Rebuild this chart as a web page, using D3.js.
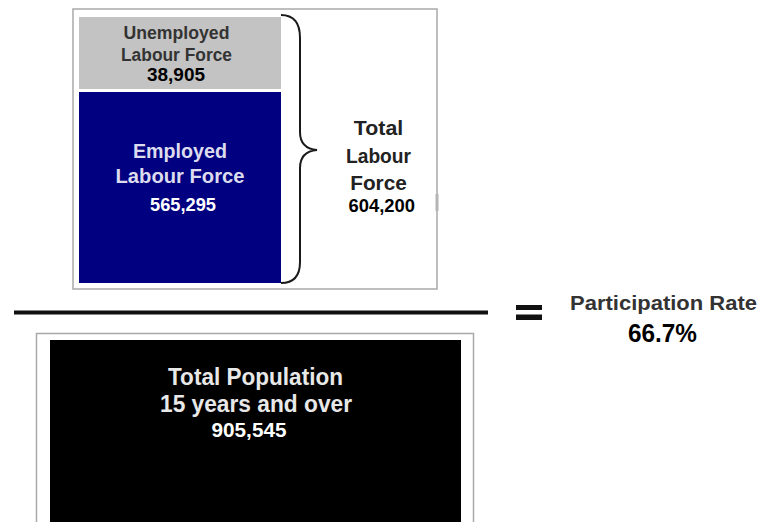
<!DOCTYPE html>
<html>
<head>
<meta charset="utf-8">
<script src="https://cdn.jsdelivr.net/npm/d3@7"></script>
<style>
  html, body { margin: 0; padding: 0; background: #ffffff; }
  svg { display: block; }
  text { font-family: "Liberation Sans", Arial, Helvetica, sans-serif; font-weight: bold; }
</style>
</head>
<body>
<script>
// ---------- data ----------
const segmentKeys   = ["unemployed", "employed"];
const segmentLabels = [["Unemployed", "Labour Force"], ["Employed", "Labour Force"]];
const segmentValues = [38905, 565295];
const labourForceLabel = ["Total", "Labour", "Force"];
const populationLabel  = ["Total Population", "15 years and over"];
const populationValue  = 905545;
const rateLabel        = "Participation Rate";

const labourForce = d3.sum(segmentValues);
const rate = labourForce / populationValue;
const fmt = d3.format(",");
const fmtPct = d3.format(".1%");

// ---------- canvas ----------
const W = 765, H = 522;
const svg = d3.select("body").append("svg").attr("width", W).attr("height", H);

// ---------- scales (diagram layout) ----------
const ySeg = d3.scaleOrdinal().domain(segmentKeys).range([[17, 89], [92, 283]]);
const xBar = d3.scaleLinear().domain([0, 1]).range([79, 281]);
const segFill = d3.scaleOrdinal().domain(segmentKeys).range(["#c3c3c3", "#000080"]);
const segLabelFill = d3.scaleOrdinal().domain(segmentKeys).range(["#333333", "#dcdcee"]);
const segValueFill = d3.scaleOrdinal().domain(segmentKeys).range(["#000000", "#ffffff"]);

// ---------- top frame ----------
svg.append("rect")
  .attr("x", 73).attr("y", 9).attr("width", 364).attr("height", 280)
  .attr("fill", "#ffffff").attr("stroke", "#a9a9a9").attr("stroke-width", 1.5);
svg.append("rect")
  .attr("x", 435.5).attr("y", 194).attr("width", 3).attr("height", 17)
  .attr("fill", "#b5b5b5");

// segments
svg.selectAll("rect.seg").data(segmentKeys).enter().append("rect")
  .attr("class", "seg")
  .attr("x", xBar(0))
  .attr("y", d => ySeg(d)[0])
  .attr("width", xBar(1) - xBar(0))
  .attr("height", d => ySeg(d)[1] - ySeg(d)[0])
  .attr("fill", d => segFill(d));

// text helper
function label(x, y, str, size, fill, len) {
  const t = svg.append("text")
    .attr("x", x).attr("y", y)
    .attr("text-anchor", "middle")
    .attr("font-size", size)
    .attr("fill", fill)
    .text(str);
  if (len) t.attr("textLength", len).attr("lengthAdjust", "spacingAndGlyphs");
  return t;
}

// segment labels
const segText = {
  unemployed: { cx: 176.5, lines: [[38.5, 106], [60.5, 111]], size: 17.5, vx: 176, vy: 81.3, vlen: 58, vsize: 18 },
  employed:   { cx: 180, lines: [[158.3, 94], [183.3, 129]], size: 19.5, vx: 183, vy: 210.7, vlen: 66, vsize: 17.5 }
};
segmentKeys.forEach((k, i) => {
  const s = segText[k];
  segmentLabels[i].forEach((ln, j) => {
    label(s.cx, s.lines[j][0], ln, s.size, segLabelFill(k), s.lines[j][1]);
  });
  label(s.vx, s.vy, fmt(segmentValues[i]), s.vsize, segValueFill(k), s.vlen);
});

// brace
svg.append("path")
  .attr("d", "M281,15 C293,15 300,22 300,38 L300,132 C300,143 306,149 317,150 C306,151 300,157 300,168 L300,262 C300,276 293,283 281,283")
  .attr("fill", "none").attr("stroke", "#1a1a1a").attr("stroke-width", 2);

// total labour force label
const tlfLines = [[135, 49.3], [163.3, 65], [190, 56.6]];
labourForceLabel.forEach((ln, j) => {
  label(378.5, tlfLines[j][0], ln, 21, "#222222", tlfLines[j][1]);
});
label(381.7, 211.7, fmt(labourForce), 18.5, "#000000", 66.5);

// ---------- fraction bar and equals ----------
svg.append("rect").attr("x", 14).attr("y", 310.5).attr("width", 474).attr("height", 4).attr("fill", "#111111");
svg.append("rect").attr("x", 516).attr("y", 305).attr("width", 26).attr("height", 5).attr("fill", "#111111");
svg.append("rect").attr("x", 516).attr("y", 314.5).attr("width", 26).attr("height", 5.5).attr("fill", "#111111");

label(663.5, 310, rateLabel, 21, "#333333", 187);
label(662.5, 341.7, fmtPct(rate), 25, "#000000", 69);

// ---------- bottom (population) ----------
svg.append("rect")
  .attr("x", 36.5).attr("y", 333.5).attr("width", 437).attr("height", 200)
  .attr("fill", "#ffffff").attr("stroke", "#a9a9a9").attr("stroke-width", 1.5);
svg.append("rect")
  .attr("x", 50).attr("y", 340).attr("width", 411).attr("height", 190)
  .attr("fill", "#000000");

label(255.5, 385, populationLabel[0], 23, "#e8e8e8", 175);
label(256, 411.5, populationLabel[1], 23, "#e8e8e8", 192);
label(249, 437.3, fmt(populationValue), 19.5, "#ffffff", 75);
</script>
</body>
</html>
